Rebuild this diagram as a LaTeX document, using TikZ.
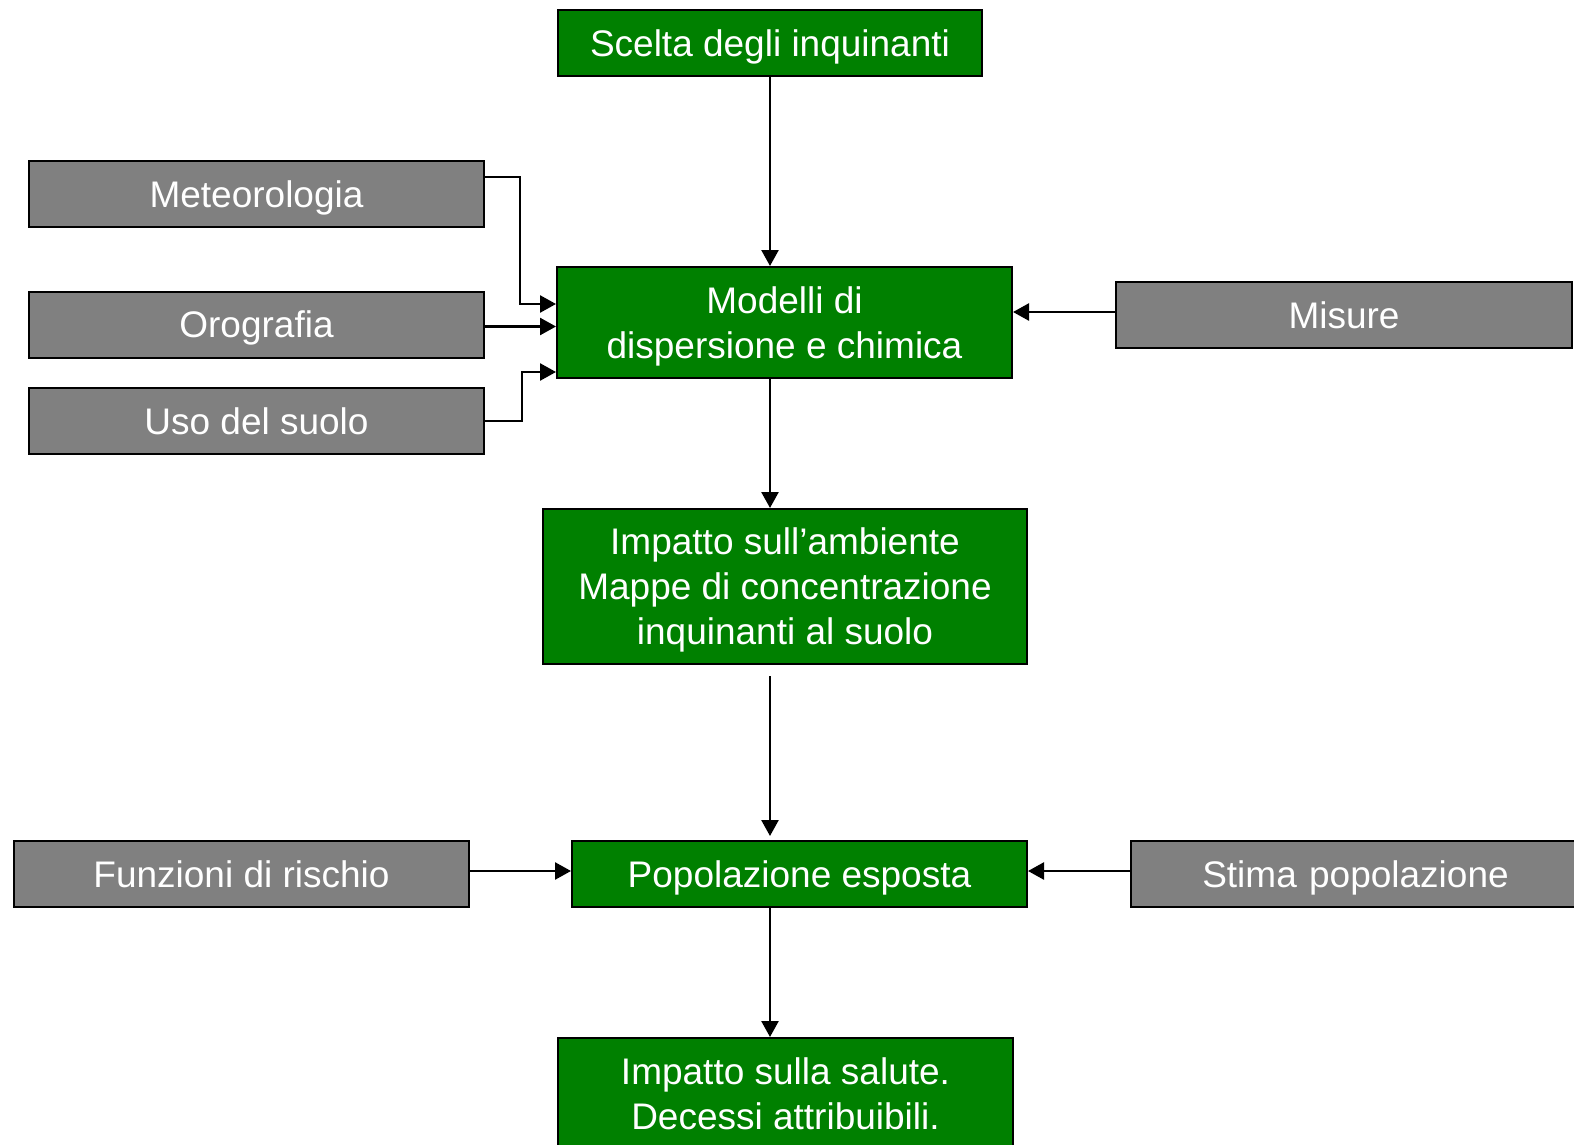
\documentclass[tikz,border=0pt]{standalone}
\usepackage{fontspec}
\setmainfont{Liberation Sans}
\usetikzlibrary{arrows.meta}
\definecolor{boxgreen}{HTML}{008000}
\definecolor{boxgrey}{HTML}{808080}
\tikzset{
  gbox/.style={draw=black, line width=2pt, fill=boxgreen, text=white, align=center,
    font=\fontsize{37}{45}\selectfont, inner sep=0pt, text depth=0pt},
  ybox/.style={draw=black, line width=2pt, fill=boxgrey, text=white, align=center,
    font=\fontsize{37}{45}\selectfont, inner sep=0pt, text depth=0pt},
  conn/.style={line width=2.5pt, -{Triangle[length=16pt,width=17pt]}}
}
\begin{document}
\begin{tikzpicture}[x=1pt,y=-1pt]
\useasboundingbox (0,0) rectangle (1574,1145);
\begin{scope}
\clip (0,0) rectangle (1574,1145);
\node[gbox, minimum width=424pt, minimum height=66pt] (scelta) at (770,43) {Scelta degli inquinanti};
\node[ybox, minimum width=455pt, minimum height=66pt] (met) at (256.5,194) {Meteorologia};
\node[ybox, minimum width=455pt, minimum height=66pt] (oro) at (256.5,324.5) {Orografia};
\node[ybox, minimum width=455pt, minimum height=66pt] (uso) at (256.5,421) {Uso del suolo};
\node[gbox, minimum width=455pt, minimum height=111pt] (mod) at (784.5,322.5) {Modelli di\\dispersione e chimica};
\node[ybox, minimum width=456pt, minimum height=66pt] (mis) at (1344,315) {Misure};
\node[gbox, minimum width=484pt, minimum height=155pt] (amb) at (785,586.5) {Impatto sull’ambiente\\Mappe di concentrazione\\inquinanti al suolo};
\node[ybox, minimum width=455pt, minimum height=66pt] (fun) at (241.5,874) {Funzioni di rischio};
\node[gbox, minimum width=455pt, minimum height=66pt] (pop) at (799.5,874) {Popolazione esposta};
\node[ybox, minimum width=449pt, minimum height=66pt, text width=449pt] (stima) at (1355.5,874) {Stima popolazione};
\node[gbox, minimum width=455pt, minimum height=112pt] (sal) at (785.5,1094) {Impatto sulla salute.\\Decessi attribuibili.};

\draw[conn] (scelta.south) -- (scelta.south |- mod.north);
\draw[conn] (mod.south -| scelta.south) -- (amb.north -| scelta.south);
\draw[conn, shorten <=11pt, shorten >=4pt] (amb.south -| scelta.south) -- (pop.north -| scelta.south);
\draw[conn] (pop.south -| scelta.south) -- (sal.north -| scelta.south);

\draw[conn] ([yshift=17pt]met.east) -- ++(35pt,0) |- ([yshift=18.5pt]mod.west);
\draw[conn] ([yshift=-2pt]oro.east) -- ([yshift=-2pt]oro.east -| mod.west);
\draw[conn] (uso.east) -- ++(37pt,0) |- ([yshift=-49.5pt]mod.west);
\draw[conn] ([yshift=3pt]mis.west) -- ([yshift=3pt]mis.west -| mod.east);
\draw[conn] ([yshift=3pt]fun.east) -- ([yshift=3pt]fun.east -| pop.west);
\draw[conn] ([yshift=3pt]stima.west) -- ([yshift=3pt]stima.west -| pop.east);
\end{scope}
\end{tikzpicture}
\end{document}
